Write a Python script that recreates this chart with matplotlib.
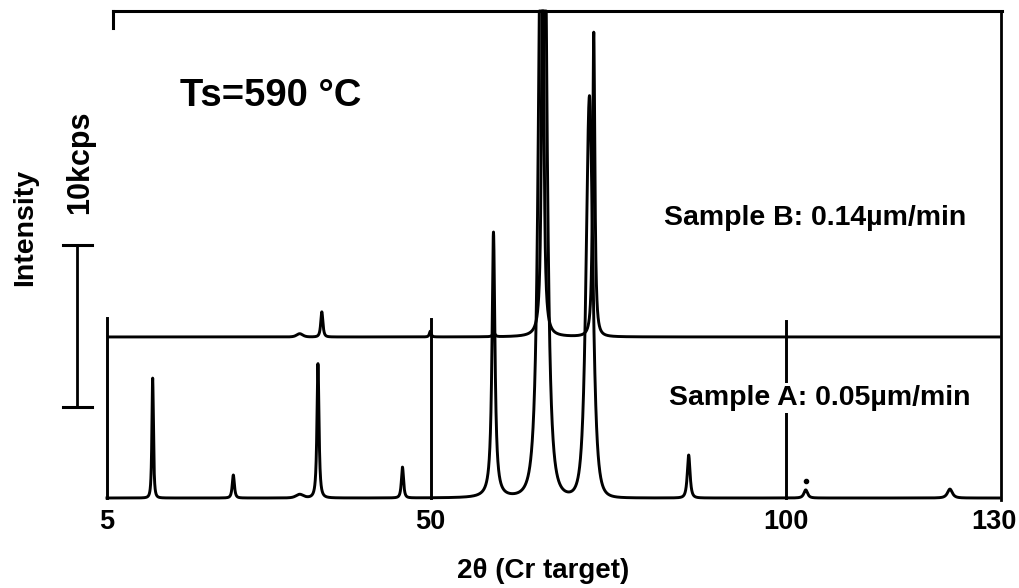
import numpy as np
import matplotlib
matplotlib.use("Agg")
import matplotlib.pyplot as plt

plt.rcParams['font.family'] = ['Liberation Sans', 'DejaVu Sans']

# ---------------- data ----------------
# Sample A (0.05 um/min) peaks:
# 2theta, height (kcps), FWHM (deg), Pearson-VII shape exponent (1 = Lorentzian)
a_pos = [11.4, 22.7, 32.0, 34.56, 46.4, 59.15, 66.05, 72.6, 86.5, 102.9, 123.1]
a_height = [7.4, 1.42, 0.22, 8.3, 1.9, 16.4, 60.0, 24.8, 2.65, 0.5, 0.55]
a_fwhm = [0.25, 0.35, 1.2, 0.33, 0.35, 0.49, 1.0, 1.09, 0.45, 0.6, 0.8]
a_shape = [1.5, 1.5, 3.0, 1.3, 1.5, 1.0, 1.7, 2.0, 1.5, 1.5, 1.5]

# Sample B (0.14 um/min) peaks
b_pos = [32.0, 35.1, 50.3, 59.2, 66.05, 73.2]
b_height = [0.2, 1.55, 0.35, 0.25, 30.0, 18.8]
b_fwhm = [1.0, 0.35, 0.3, 0.4, 0.34, 0.36]
b_shape = [3.0, 1.5, 1.5, 1.5, 1.0, 1.2]
b_offset = 9.94          # kcps, vertical shift of trace B
a_start, b_start, scan_end = 5.0, 5.2, 130.0

# recorder marks (2theta, top in kcps)
mark_x = [5.0, 50.4, 100.2]
mark_top = [11.1, 11.05, 10.9]

xticks = [5, 50, 100, 130]
xtick_pos = [5.0, 50.3, 100.1, 129.3]
frame_top = 30.06
scale_bar = (5.6, 15.6)   # 10 kcps

# ---------------- drawing ----------------
fig = plt.figure(figsize=(10.2, 5.88), dpi=100)
ax = fig.add_axes([0, 0, 1, 1])
ax.set_xlim(-9.99, 132.92)
ax.set_ylim(-5.556, 30.74)
ax.axis('off')


def profile(x, pos, h, fw, shape):
    y = np.zeros_like(x)
    for c, hh, f, m in zip(pos, h, fw, shape):
        d = x - c
        y += hh / (1.0 + (2 * d / f) ** 2 * (2 ** (1.0 / m) - 1)) ** m
    return y


xa = np.linspace(a_start, scan_end, 10000)
ya = np.minimum(profile(xa, a_pos, a_height, a_fwhm, a_shape), frame_top)
xb = np.linspace(b_start, scan_end, 10000)
yb = np.minimum(b_offset + profile(xb, b_pos, b_height, b_fwhm, b_shape), frame_top)

lw = 2.1
ax.plot(xa, ya, color='black', lw=lw, solid_joinstyle='round')
ax.plot(xb, yb, color='black', lw=lw, solid_joinstyle='round')

for mx, mt in zip(mark_x, mark_top):
    ax.plot([mx, mx], [0, mt], color='black', lw=lw)

# chart frame
ax.plot([5.84, 130.4], [frame_top, frame_top], color='black', lw=2.2)
ax.plot([5.84, 5.84], [frame_top, 29.0], color='black', lw=2.2)
ax.plot([130.2, 130.2], [-0.1, frame_top], color='black', lw=2.0)

# scale bar
ax.plot([0.8, 0.8], list(scale_bar), color='black', lw=2.0)
for yy in scale_bar:
    ax.plot([-1.17, 2.9], [yy, yy], color='black', lw=2.2)

# dot mark above small peak
ax.plot([102.9], [1.05], 'o', color='black', ms=3)

# texts
for t, p in zip(xticks, xtick_pos):
    ax.text(p, -1.48, str(t), ha='center', va='center', fontsize=19.5, fontweight='bold')
ax.text(66.1, -4.5, '2θ (Cr target)', ha='center', va='center', fontsize=20, fontweight='bold')
ax.text(-6.49, 16.67, 'Intensity', rotation=90, ha='center', va='center', fontsize=20.5, fontweight='bold')
ax.text(1.22, 20.7, '10kcps', rotation=90, ha='center', va='center', fontsize=22, fontweight='bold')
ax.text(27.98, 24.8, 'Ts=590 °C', ha='center', va='center', fontsize=27.5, fontweight='bold')
ax.text(104.2, 17.28, 'Sample B: 0.14µm/min', ha='center', va='center', fontsize=20.5, fontweight='bold')
ax.text(104.9, 6.17, 'Sample A: 0.05µm/min', ha='center', va='center', fontsize=20.5, fontweight='bold',
        bbox=dict(facecolor='white', edgecolor='none', pad=1.5))

fig.savefig('out.png', dpi=100, facecolor='white')
